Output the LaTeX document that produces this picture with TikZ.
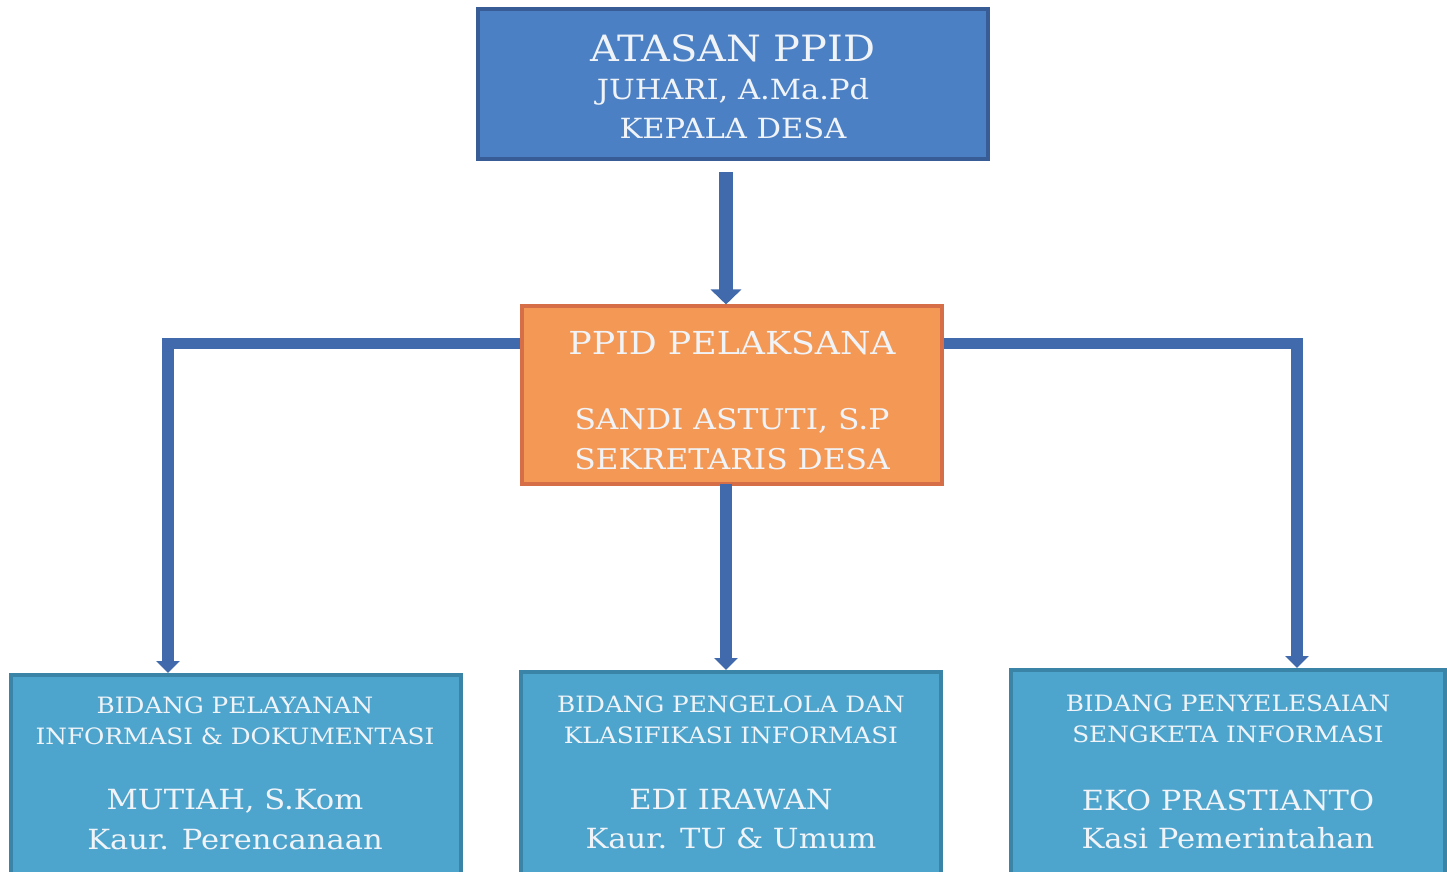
\documentclass[tikz,border=0pt]{standalone}
\usepackage{fontspec}
\setmainfont[FakeStretch=1.1]{DejaVu Serif}
\usetikzlibrary{arrows.meta}

\definecolor{biruatas}{RGB}{76,128,196}
\definecolor{biruatasgaris}{RGB}{56,93,150}
\definecolor{oranye}{RGB}{244,152,86}
\definecolor{oranyegaris}{RGB}{214,110,72}
\definecolor{birubidang}{RGB}{77,165,205}
\definecolor{birubidanggaris}{RGB}{58,132,168}
\definecolor{garisbiru}{RGB}{64,106,172}
\definecolor{teksputih}{RGB}{240,244,248}

\tikzset{
  kotak/.style={draw, line width=0.04cm, inner sep=0pt},
  judul/.style={text=teksputih, font=\fontsize{10.3}{12}\selectfont},
  subjudul/.style={text=teksputih, font=\fontsize{9.0}{11}\selectfont},
  nama/.style={text=teksputih, font=\fontsize{7.9}{9}\selectfont},
  bidang/.style={text=teksputih, font=\fontsize{6.4}{7}\selectfont},
  garis/.style={garisbiru, line width=0.11cm},
  panah/.style={garis, -{Triangle[width=0.23cm,length=0.12cm]}}
}

\begin{document}
\begin{tikzpicture}[x=0.01cm,y=-0.01cm]

\useasboundingbox (0,0) rectangle (1447,872);
\clip (0,0) rectangle (1447,872);
\fill[white] (0,0) rectangle (1447,872);

% Atasan
\node[kotak, fill=biruatas, draw=biruatasgaris, minimum width=5.10cm, minimum height=1.50cm] (atasan) at (733,84) {};
\node[judul] (atasan1) at (733,48) {ATASAN PPID};
\node[nama] (atasan2) at (733,92) {JUHARI, A.Ma.Pd};
\node[nama] (atasan3) at (733,128) {KEPALA DESA};

% Pelaksana
\node[kotak, fill=oranye, draw=oranyegaris, minimum width=4.19cm, minimum height=1.77cm] (pelaksana) at (732,395) {};
\node[subjudul] (pelaksana1) at (732,343) {PPID PELAKSANA};
\node[nama, font=\fontsize{8.1}{9}\selectfont] (pelaksana2) at (732,421) {SANDI ASTUTI, S.P};
\node[nama, font=\fontsize{8.1}{9}\selectfont] (pelaksana3) at (732,459) {SEKRETARIS DESA};

% Bidang
\node[kotak, fill=birubidang, draw=birubidanggaris, anchor=north, minimum width=4.50cm, minimum height=2.40cm] (bidang1) at (236,673) {};
\node[bidang] (bidang1a) at (235,705) {BIDANG PELAYANAN};
\node[bidang] (bidang1b) at (235,736) {INFORMASI \& DOKUMENTASI};
\node[nama] (bidang1c) at (235,801) {MUTIAH, S.Kom};
\node[nama] (bidang1d) at (235,840) {Kaur. Perencanaan};

\node[kotak, fill=birubidang, draw=birubidanggaris, anchor=north, minimum width=4.19cm, minimum height=2.40cm] (bidang2) at (731,670) {};
\node[bidang] (bidang2a) at (731,704) {BIDANG PENGELOLA DAN};
\node[bidang] (bidang2b) at (731,735) {KLASIFIKASI INFORMASI};
\node[nama] (bidang2c) at (731,800) {EDI IRAWAN};
\node[nama] (bidang2d) at (731,838) {Kaur. TU \& Umum};

\node[kotak, fill=birubidang, draw=birubidanggaris, anchor=north, minimum width=4.33cm, minimum height=2.40cm] (bidang3) at (1228,668) {};
\node[bidang] (bidang3a) at (1228,703) {BIDANG PENYELESAIAN};
\node[bidang] (bidang3b) at (1228,734) {SENGKETA INFORMASI};
\node[nama] (bidang3c) at (1228,800) {EKO PRASTIANTO};
\node[nama] (bidang3d) at (1228,838) {Kasi Pemerintahan};

% Garis penghubung
\coordinate (atas) at (726,172);
\coordinate (kiri) at (168,343);
\coordinate (kanan) at (1297,343);
\coordinate (tengah) at (726,484);

\draw[garis, line width=0.13cm, -{Triangle[width=0.30cm,length=0.15cm]}] (atas) -- (atas |- pelaksana.north);
\draw[panah] (pelaksana.west |- kiri) -- (kiri) -- (kiri |- bidang1.north);
\draw[panah] (pelaksana.east |- kanan) -- (kanan) -- (kanan |- bidang3.north);
\draw[panah] (tengah) -- (tengah |- bidang2.north);

\end{tikzpicture}
\end{document}
